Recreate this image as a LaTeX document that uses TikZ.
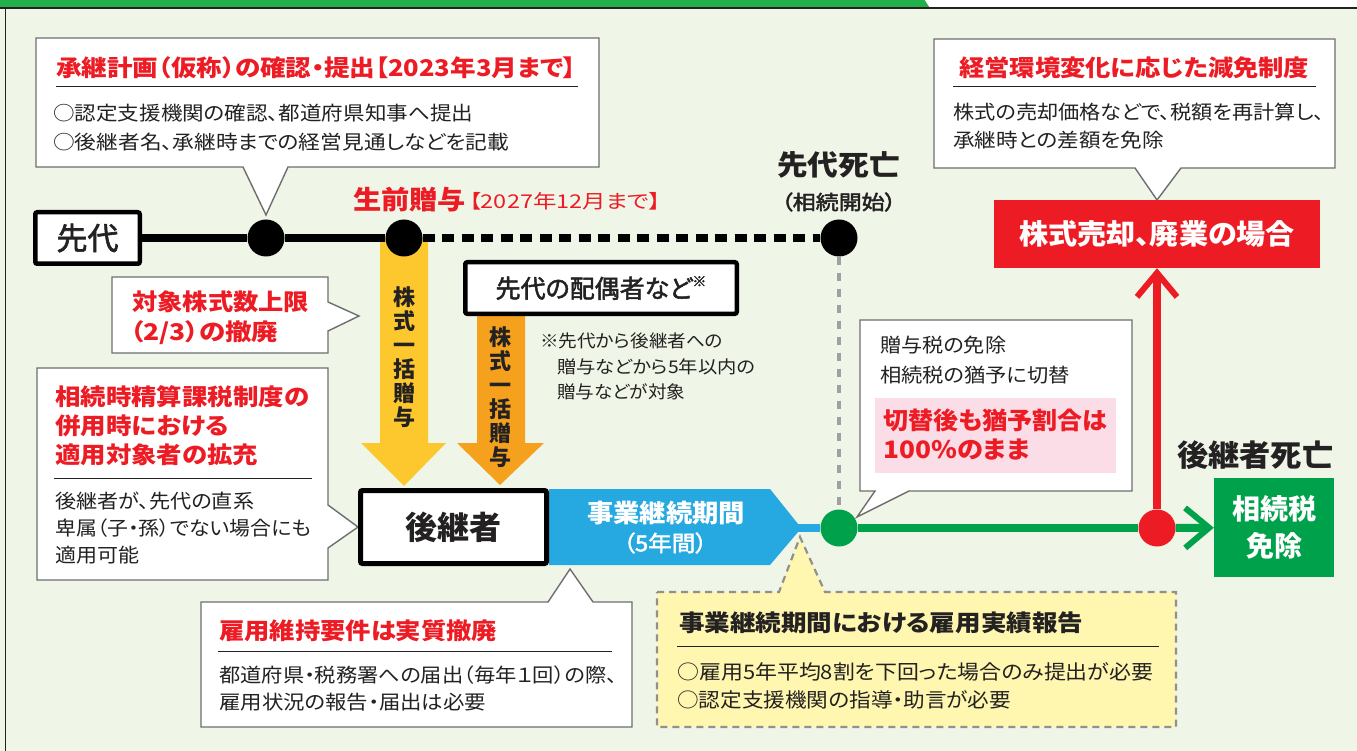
\documentclass[tikz,border=0pt]{standalone}
\usepackage{fontspec}
\usepackage{graphicx}
\setmainfont{Noto Sans CJK JP}[RawFeature=+palt]
\newfontfamily\jpmed{Noto Sans CJK JP}[RawFeature=+palt,FakeBold=2]
\usetikzlibrary{arrows.meta}
\definecolor{bg}{RGB}{239,245,231}
\definecolor{topgreen}{RGB}{34,176,75}
\definecolor{jred}{RGB}{237,28,36}
\definecolor{jblue}{RGB}{38,168,224}
\definecolor{jgreen}{RGB}{0,161,75}
\definecolor{jyellow}{RGB}{252,200,46}
\definecolor{jorange}{RGB}{245,161,30}
\definecolor{pinkbg}{RGB}{250,221,230}
\definecolor{lyellow}{RGB}{255,246,175}
\definecolor{txt}{RGB}{35,33,33}
\definecolor{calloutgray}{RGB}{110,110,112}
\definecolor{dotgray}{RGB}{160,160,160}
\newcommand\fw[2]{\resizebox{#1pt}{\height}{#2}}
\begin{document}
\begin{tikzpicture}[x=1pt,y=-1pt,
  callout/.style={draw=calloutgray, line width=1.4pt, fill=white, line join=miter},
  ttl/.style={anchor=west, inner sep=0pt, text=jred, font=\bfseries\fontsize{23}{23}\selectfont},
  bdy/.style={anchor=west, inner sep=0pt, text=txt, font=\fontsize{19.5}{19.5}\selectfont},
  rulel/.style={draw=txt, line width=1pt},
  dot/.style={circle, inner sep=0pt, minimum size=37pt},
  blackbox/.style={draw=black, line width=4.5pt, fill=white, rounded corners=2pt, inner sep=0pt, text=txt},
  vtext/.style={align=center, inner sep=0pt, font=\bfseries\fontsize{22}{24}\selectfont, text=txt},
]
\useasboundingbox (0,0) rectangle (1357,751);
\fill[bg] (0,0) rectangle (1357,751);
\fill[topgreen] (0,0) -- (925,0) -- (930,8) -- (0,8) -- cycle;
\fill[white] (925,0) -- (1357,0) -- (1357,8) -- (930,8) -- cycle;
\draw[txt, line width=1.5pt] (0,8) -- (1357,8);
\draw[txt, line width=1.5pt] (5.5,8) -- (5.5,751);

% callouts
\draw[callout] (36,38) -- (599,38) -- (599,167) -- (288,167) -- (266,215) -- (243,167) -- (36,167) -- cycle;
\draw[callout] (934,39) -- (1335,39) -- (1335,168) -- (1181,168) -- (1157,200) -- (1135,168) -- (934,168) -- cycle;
\draw[callout] (112,277) -- (328,277) -- (328,302) -- (359,316) -- (328,331) -- (328,353) -- (112,353) -- cycle;
\draw[callout] (37,368) -- (328,368) -- (328,505) -- (358,527) -- (328,548) -- (328,580) -- (37,580) -- cycle;
\draw[callout] (860,320) -- (1132,320) -- (1132,491) -- (909,491) -- (857,517) -- (875,491) -- (860,491) -- cycle;
\draw[callout] (201,602) -- (548,602) -- (570,569) -- (593,602) -- (632,602) -- (632,727) -- (201,727) -- cycle;
\draw[draw=dotgray!90!black, line width=2.2pt, dash pattern=on 7pt off 5pt, fill=lyellow] (657,592) -- (779,592) -- (800,537) -- (825,592) -- (1176,592) -- (1176,727) -- (657,727) -- cycle;

% block arrows
\fill[jyellow] (380,238) -- (428,238) -- (428,443) -- (446,443) -- (404,486) -- (361,443) -- (380,443) -- cycle;
\fill[jorange] (477,316) -- (525,316) -- (525,443) -- (544,443) -- (500,485) -- (457,443) -- (477,443) -- cycle;
% blue period
\fill[jblue] (549,489) -- (770,489) -- (798,524) -- (798,532) -- (770,565) -- (549,565) -- cycle;
\coordinate (btip) at (797,528);

% boxes
\node[blackbox, minimum width=104.5pt, minimum height=51.5pt, font=\jpmed\fontsize{31}{31}\selectfont] (sendai) at (87.5,238) {先代};
\node[blackbox, line width=5pt, minimum width=186pt, minimum height=73pt, font=\bfseries\fontsize{32}{32}\selectfont] (koukei) at (453.5,527) {後継者};
\node[blackbox, minimum width=271.5pt, minimum height=51.5pt, font=\jpmed\fontsize{25}{25}\selectfont] (haigu) at (601,288) {先代の配偶者など\raisebox{0.45em}{\fontsize{14}{14}\selectfont ※}};
\node[fill=jred, minimum width=326pt, minimum height=68pt, inner sep=0pt, text=white, font=\bfseries\fontsize{28}{28}\selectfont] (redbox) at (1157,234) {\fw{276}{株式売却、廃業の場合}};
\node[fill=jgreen, minimum width=120pt, minimum height=99pt, inner sep=0pt, align=center, text=white, font=\bfseries\fontsize{28}{37}\selectfont] (gbox) at (1274,527.5) {相続税\\免除};

% circles
\node[dot, fill=black] (c1) at (266,238) {};
\node[dot, fill=black] (c2) at (404,238) {};
\node[dot, fill=black] (c3) at (839,238) {};
\node[dot, fill=jgreen] (g1) at (839,528) {};
\node[dot, fill=jred] (r1) at (1157,528) {};

% connectors
\draw[black, line width=7.5pt] (sendai) -- (c1);
\draw[black, line width=7.5pt] (c1) -- (c2);
\draw[black, line width=7.5pt, dash pattern=on 12pt off 7.5pt] (c2) -- (c3);
\draw[dotgray, line width=4.5pt, dash pattern=on 8pt off 8pt] (c3) -- (g1);
\draw[jblue, line width=8pt] (btip) -- (g1);
\draw[jgreen, line width=8pt] (g1) -- (r1);
\draw[jgreen, line width=8pt, -{Straight Barb[length=24pt,width=40pt,line width=6pt]}] (r1) -- (gbox);
\draw[jred, line width=8pt, -{Straight Barb[length=24pt,width=40pt,line width=6pt]}] (r1) -- (redbox);

% texts: top-left callout
\node[ttl] (t1) at (56,68) {\fw{520}{承継計画（仮称）の確認・提出【2023年3月まで】}};
\draw[rulel] (56,87) -- (578,87);
\node[bdy] (t1a) at (53,113) {\fw{420}{○認定支援機関の確認、都道府県知事へ提出}};
\node[bdy] (t1b) at (53,142) {\fw{456}{○後継者名、承継時までの経営見通しなどを記載}};

% timeline labels
\node[anchor=west, inner sep=0pt, text=jred, font=\bfseries\fontsize{26}{26}\selectfont] (seizen) at (353,200) {\fw{113}{生前贈与}};
\node[anchor=west, inner sep=0pt, text=jred, font=\fontsize{19}{19}\selectfont] (seizen2) at (469,201) {\fw{192}{【2027年12月まで】}};
\node[anchor=west, inner sep=0pt, text=txt, font=\bfseries\fontsize{28}{28}\selectfont] (shibou) at (777,165) {\fw{123}{先代死亡}};
\node[anchor=west, inner sep=0pt, text=txt, font=\jpmed\fontsize{20}{20}\selectfont] (kaishi) at (781,202) {\fw{115}{（相続開始）}};

% right callout
\node[ttl] (t2) at (959,68) {\fw{350}{経営環境変化に応じた減免制度}};
\draw[rulel] (953,87) -- (1316,87);
\node[bdy] (t2a) at (953,112) {\fw{371}{株式の売却価格などで、税額を再計算し、}};
\node[bdy] (t2b) at (953,140) {\fw{211}{承継時との差額を免除}};

% left callouts
\node[ttl] (t3a) at (132,302) {\fw{177}{対象株式数上限}};
\node[ttl] (t3b) at (130,333) {\fw{148}{（2/3）の撤廃}};
\node[ttl] (t4a) at (55,397) {\fw{254}{相続時精算課税制度の}};
\node[ttl] (t4b) at (55,426) {\fw{174}{併用時における}};
\node[ttl] (t4c) at (55,455) {\fw{203}{適用対象者の拡充}};
\draw[rulel] (54,478) -- (312,478);
\node[bdy] (t4d) at (55,501) {\fw{199}{後継者が、先代の直系}};
\node[bdy] (t4e) at (55,528) {\fw{256}{卑属（子・孫）でない場合にも}};
\node[bdy] (t4f) at (55,555) {\fw{84}{適用可能}};

% vertical texts
\node[vtext] (vy) at (404,357.5) {株\\式\\一\\括\\贈\\与};
\node[vtext] (vo) at (500,397) {株\\式\\一\\括\\贈\\与};

% note
\node[anchor=west, inner sep=0pt, text=txt, font=\fontsize{17.5}{17.5}\selectfont] (n1) at (540,341) {\fw{183}{※先代から後継者への}};
\node[anchor=west, inner sep=0pt, text=txt, font=\fontsize{17.5}{17.5}\selectfont] (n2) at (557,367) {\fw{198}{贈与などから5年以内の}};
\node[anchor=west, inner sep=0pt, text=txt, font=\fontsize{17.5}{17.5}\selectfont] (n3) at (557,392) {\fw{128}{贈与などが対象}};

% blue labels
\node[anchor=west, inner sep=0pt, text=white, font=\bfseries\fontsize{25}{25}\selectfont] (kikan) at (587,513) {\fw{158}{事業継続期間}};
\node[anchor=west, inner sep=0pt, text=white, font=\jpmed\fontsize{22}{22}\selectfont] (kikan2) at (623,543) {\fw{84}{（5年間）}};

% green-circle callout
\node[bdy] (t5a) at (880,345) {\fw{126}{贈与税の免除}};
\node[bdy] (t5b) at (880,375) {\fw{190}{相続税の猶予に切替}};
\fill[pinkbg] (875,398) rectangle (1116,473);
\node[ttl, font=\bfseries\fontsize{24}{24}\selectfont] (t5c) at (883,420) {\fw{224}{切替後も猶予割合は}};
\node[ttl, font=\bfseries\fontsize{24}{24}\selectfont] (t5d) at (883,450) {\fw{147}{100\%のまま}};

\node[anchor=west, inner sep=0pt, text=txt, font=\bfseries\fontsize{30}{30}\selectfont] (kshibou) at (1177,455) {\fw{156}{後継者死亡}};

% bottom callouts
\node[ttl] (t6) at (219,631) {\fw{278}{雇用維持要件は実質撤廃}};
\draw[rulel] (218,651) -- (612,651);
\node[bdy] (t6a) at (219,675) {\fw{398}{都道府県・税務署への届出（毎年１回）の際、}};
\node[bdy] (t6b) at (219,702) {\fw{267}{雇用状況の報告・届出は必要}};

\node[ttl, text=txt] (t7) at (679,623) {\fw{404}{事業継続期間における雇用実績報告}};
\draw[rulel] (677,646) -- (1159,646);
\node[bdy, font=\fontsize{20}{20}\selectfont] (t7a) at (677,672) {\fw{476}{○雇用5年平均8割を下回った場合のみ提出が必要}};
\node[bdy, font=\fontsize{20}{20}\selectfont] (t7b) at (677,700) {\fw{334}{○認定支援機関の指導・助言が必要}};
\end{tikzpicture}
\end{document}
